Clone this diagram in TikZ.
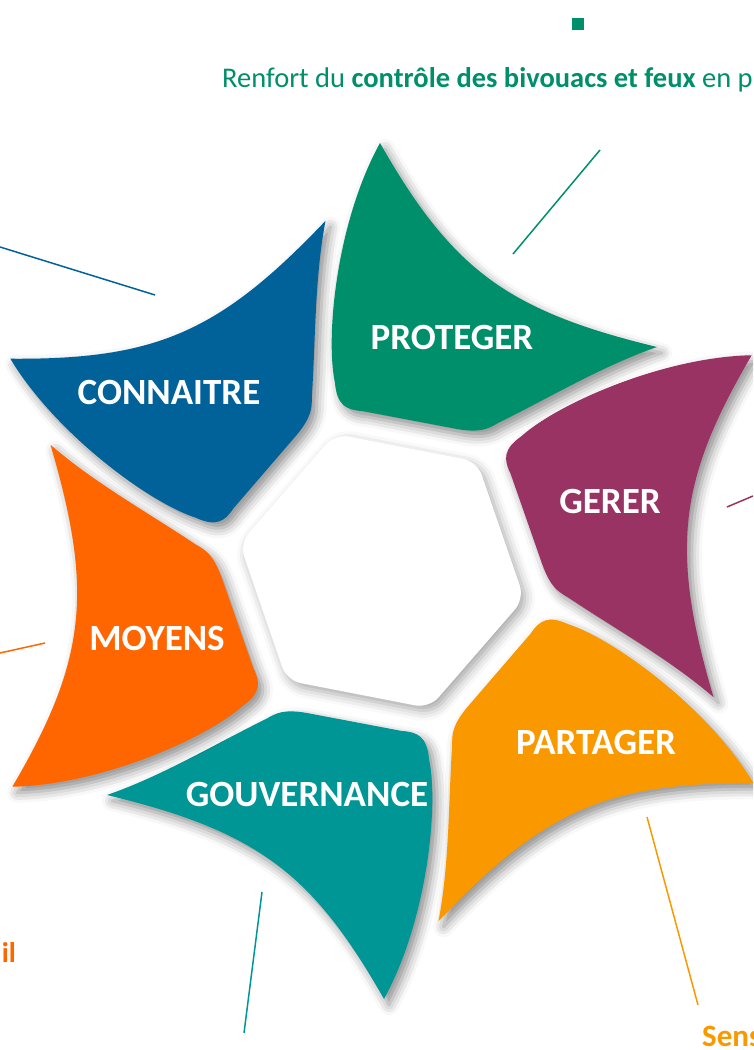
\documentclass[tikz,border=0pt]{standalone}
\usepackage{fontspec}
\setmainfont{Carlito}
\usetikzlibrary{shadows.blur}
\definecolor{cgreen}{HTML}{008F6B}
\definecolor{cblue}{HTML}{006298}
\definecolor{cpurple}{HTML}{993363}
\definecolor{cyellow}{HTML}{FA9800}
\definecolor{cteal}{HTML}{009696}
\definecolor{corange}{HTML}{FF6600}
\tikzset{
  petalfill/.style={blur shadow={shadow xshift=5pt, shadow yshift=-6pt, shadow blur radius=10pt, shadow opacity=45}},
  hexfill/.style={fill=white, rounded corners=14pt, blur shadow={shadow xshift=4pt, shadow yshift=-5pt, shadow blur radius=10pt, shadow opacity=35}},
  lbl/.style={text=white, font=\fontsize{37}{40}\selectfont\bfseries, inner sep=0pt},
  note/.style={font=\fontsize{28.5}{32}\selectfont, inner sep=0pt},
  leader/.style={line width=1.5pt},
}
\newcommand{\petalshape}[1]{([rotate=#1]-20,160) -- ([rotate=#1]75,142) .. controls ([rotate=#1]98,138) and ([rotate=#1]106,142) .. ([rotate=#1]116,148) .. controls ([rotate=#1]165,172) and ([rotate=#1]220,205) .. ([rotate=#1]275,224) .. controls ([rotate=#1]126,260) and ([rotate=#1]70,301) .. ([rotate=#1]-2,428) .. controls ([rotate=#1]-45,350) and ([rotate=#1]-57,235) .. ([rotate=#1]-47,188) .. controls ([rotate=#1]-45,166) and ([rotate=#1]-36,161) .. ([rotate=#1]-20,160) -- cycle}
\begin{document}
\begin{tikzpicture}[x=1pt,y=1pt]
\useasboundingbox (0,0) rectangle (753,1050);
\clip (0,0) rectangle (753,1050);
\begin{scope}[shift={(382,479)}]
  \path[hexfill] (109:145) -- (49:145) -- (-11:145) -- (-71:145) -- (-131:145) -- (169:145) -- cycle;
  \foreach \a/\c in {0/cgreen,-60/cpurple,-120/cyellow,-180/cteal,-240/corange,-300/cblue}
    \path[fill=\c, petalfill] \petalshape{\a};
\end{scope}
% labels
\node[lbl] (proteger) at (452,712) {PROTEGER};
\node[lbl] (connaitre) at (169,657) {CONNAITRE};
\node[lbl] (gerer) at (610,548) {GERER};
\node[lbl] (moyens) at (157,412) {MOYENS};
\node[lbl] (partager) at (596,308) {PARTAGER};
\node[lbl] (gouvernance) at (307,255) {GOUVERNANCE};
% annotations
\node[fill=cgreen, minimum size=12pt, inner sep=0pt] (sq) at (578,1026) {};
\node[note, text=cgreen, anchor=base west] (toptext) at (222,962) {Renfort du \textbf{contrôle des bivouacs et feux} en p};
\node[note, text=corange, font=\fontsize{28.5}{32}\selectfont\bfseries, anchor=base east] (il) at (16,87) {il};
\node[note, text=cyellow, font=\fontsize{31}{34}\selectfont\bfseries, anchor=base west] (sens) at (702,4) {Sens};
% leader lines
\coordinate (b1) at (0,803); \coordinate (b2) at (155,755);
\coordinate (g1) at (600,900); \coordinate (g2) at (513,796);
\coordinate (p1) at (753,554); \coordinate (p2) at (727,543);
\coordinate (o1) at (0,397); \coordinate (o2) at (45,407);
\coordinate (t1) at (262,158); \coordinate (t2) at (244,17);
\coordinate (y1) at (647,233); \coordinate (y2) at (698,45);
\draw[leader, cblue] (b1) -- (b2);
\draw[leader, cgreen] (g1) -- (g2);
\draw[leader, cpurple] (p1) -- (p2);
\draw[leader, corange] (o1) -- (o2);
\draw[leader, cteal] (t1) -- (t2);
\draw[leader, cyellow] (y1) -- (y2);
\end{tikzpicture}
\end{document}
